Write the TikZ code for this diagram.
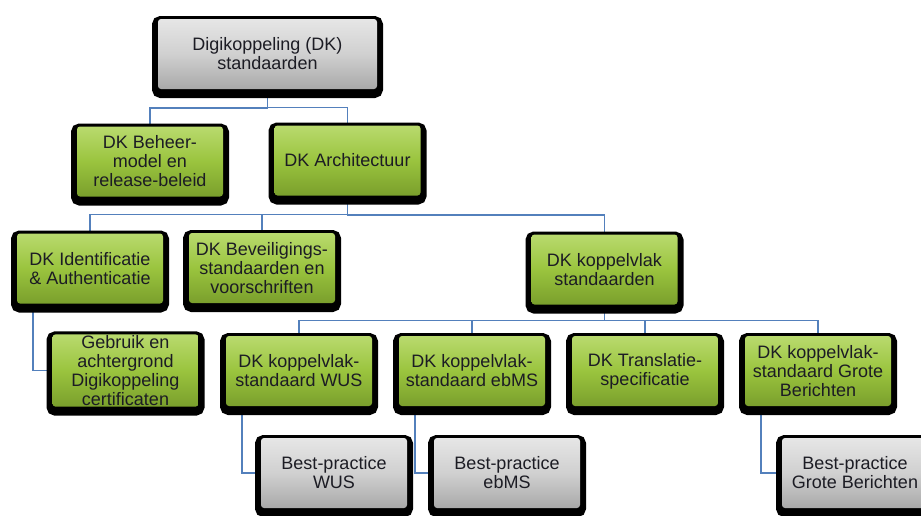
\documentclass[tikz,border=0pt]{standalone}
\usepackage{fontspec}
\setmainfont{Liberation Sans}
\usetikzlibrary{backgrounds,calc}

\definecolor{dkgreen}{HTML}{9AC43E}
\definecolor{dkgreenlight}{HTML}{B9DA6E}
\definecolor{dkgreendark}{HTML}{7A9F2C}
\definecolor{dkgray}{HTML}{D0D0D0}
\definecolor{dkgraylight}{HTML}{E6E6E6}
\definecolor{dkgraydark}{HTML}{A9A9A9}
\definecolor{dklink}{HTML}{5380BC}
\definecolor{dktext}{HTML}{1C1C24}

\begin{document}
\begin{tikzpicture}[x=1pt, y=-1pt, node distance=173pt,
    box/.style={rounded corners=3pt, minimum width=146pt, minimum height=70pt,
      inner sep=1pt, align=center, text=dktext,
      font=\fontsize{18}{19}\selectfont,
      preaction={fill=black, draw=black, line width=12pt,
        transform canvas={yshift=-3pt}}},
    green node/.style={box, top color=dkgreenlight, bottom color=dkgreendark,
      middle color=dkgreen},
    gray node/.style={box, top color=dkgraylight, bottom color=dkgraydark,
      middle color=dkgray},
    link/.style={draw=dklink, line width=1.5pt},
    bus/.style={to path={|- ($(\tikztostart)!.5!(\tikztotarget)$) -| (\tikztotarget)}}]

  \useasboundingbox (0,0) rectangle (921,515);

  \node[gray node, minimum width=219pt] (root) at (267.5,54) {Digikoppeling (DK)\\standaarden};

  \node[green node] (beheer) at (150,161.5) {DK Beheer-\\model en\\release-beleid};
  \node[green node] (arch) at (347.5,160.5) {DK Architectuur};

  \node[green node] (ident) at (90,268.5) {DK Identificatie\\\& Authenticatie};
  \node[green node] (bev) at (262,268) {DK Beveiligings-\\standaarden en\\voorschriften};
  \node[green node] (kstd) at (604.5,269.5) {DK koppelvlak\\standaarden};

  \node[green node] (gebruik) at (125.5,370.5) {Gebruik en\\achtergrond\\Digikoppeling\\certificaten};
  \node[green node] (wus) at (299,371) {DK koppelvlak-\\standaard WUS};
  \node[green node] (ebms) [right of=wus] {DK koppelvlak-\\standaard ebMS};
  \node[green node] (transl) [right of=ebms] {DK Translatie-\\specificatie};
  \node[green node] (grote) [right of=transl] {DK koppelvlak-\\standaard Grote\\Berichten};

  \node[gray node] (bpwus) at (334,473) {Best-practice\\WUS};
  \node[gray node] (bpebms) [right of=bpwus] {Best-practice\\ebMS};
  \node[gray node] (bpgrote) at (855,473) {Best-practice\\Grote Berichten};

  \begin{scope}[on background layer]
    \path[link]
      (root.south) edge[bus] (beheer.north)
                   edge[bus] (arch.north)
      (arch.south) edge[bus] (ident.north)
                   edge[bus] (bev.north)
                   edge[bus] (kstd.north)
      (kstd.south) edge[bus] (wus.north)
                   edge[bus] (ebms.north)
                   edge[bus] (transl.north)
                   edge[bus] (grote.north);
    \draw[link] ([xshift=16pt]ident.south west) |- (gebruik.west);
    \draw[link] ([xshift=16pt]wus.south west) |- (bpwus.west);
    \draw[link] ([xshift=16pt]ebms.south west) |- (bpebms.west);
    \draw[link] ([xshift=16pt]grote.south west) |- (bpgrote.west);
  \end{scope}
\end{tikzpicture}
\end{document}
